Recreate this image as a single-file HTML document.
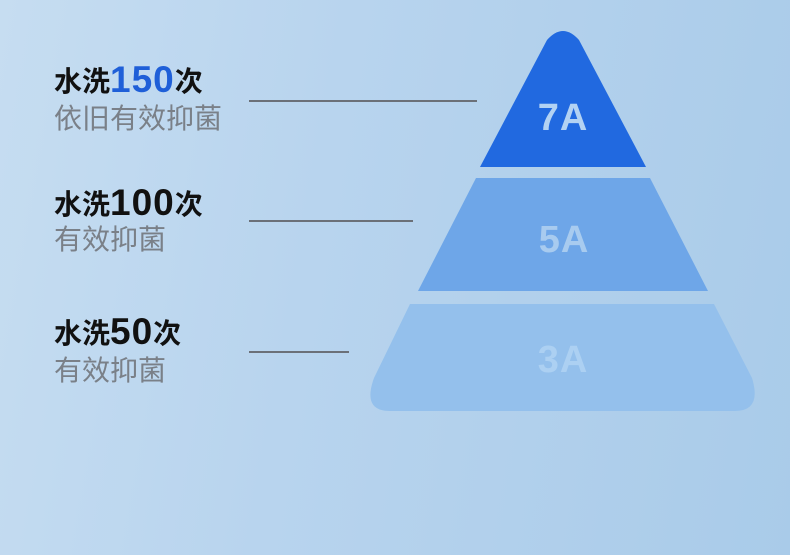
<!DOCTYPE html>
<html><head><meta charset="utf-8"><style>
body{margin:0;width:790px;height:555px;overflow:hidden;background:linear-gradient(100deg,#c6ddf1 0%,#b8d4ee 40%,#a9cbe9 100%);font-family:"Liberation Sans","Noto Sans CJK SC",sans-serif;position:relative}
.t{position:absolute;left:54px;font-size:28px;font-weight:bold;color:#111;line-height:32px;white-space:nowrap}
.t b{font-size:37px;font-family:"Liberation Sans",sans-serif;letter-spacing:1px;vertical-align:-1px}
.s{position:absolute;left:54px;font-size:28px;color:#7a8088;line-height:32px;white-space:nowrap}
.l{position:absolute;left:249px;height:2px;background:#6b7078}
</style></head><body>
<div class="t" style="top:64px">水洗<b style="color:#1f5fd8">150</b>次</div>
<div class="s" style="top:103px">依旧有效抑菌</div>
<div class="l" style="top:100px;width:228px"></div>
<div class="t" style="top:187px">水洗<b>100</b>次</div>
<div class="s" style="top:224px">有效抑菌</div>
<div class="l" style="top:220px;width:164px"></div>
<div class="t" style="top:316px">水洗<b>50</b>次</div>
<div class="s" style="top:355px">有效抑菌</div>
<div class="l" style="top:351px;width:100px"></div>
<svg width="790" height="555" style="position:absolute;left:0;top:0">
<path d="M480,167 L547,40 Q563,22 579,40 L646,167 Z" fill="#2169e0"/>
<path d="M476,178 L650,178 L708,291 L418,291 Z" fill="#6ea6e8"/>
<path d="M410,304 L714,304 L752,378 Q762,411 735,411 L390,411 Q362,411 374,378 Z" fill="#94c0ec"/>
<g font-family="Liberation Sans,sans-serif" font-weight="bold" font-size="38" text-anchor="middle" letter-spacing="1">
<text x="563" y="130" fill="#b3d2f3">7A</text>
<text x="564" y="252" fill="#a8cbef">5A</text>
<text x="563" y="372" fill="#acd0f2">3A</text>
</g>
</svg>
</body></html>
